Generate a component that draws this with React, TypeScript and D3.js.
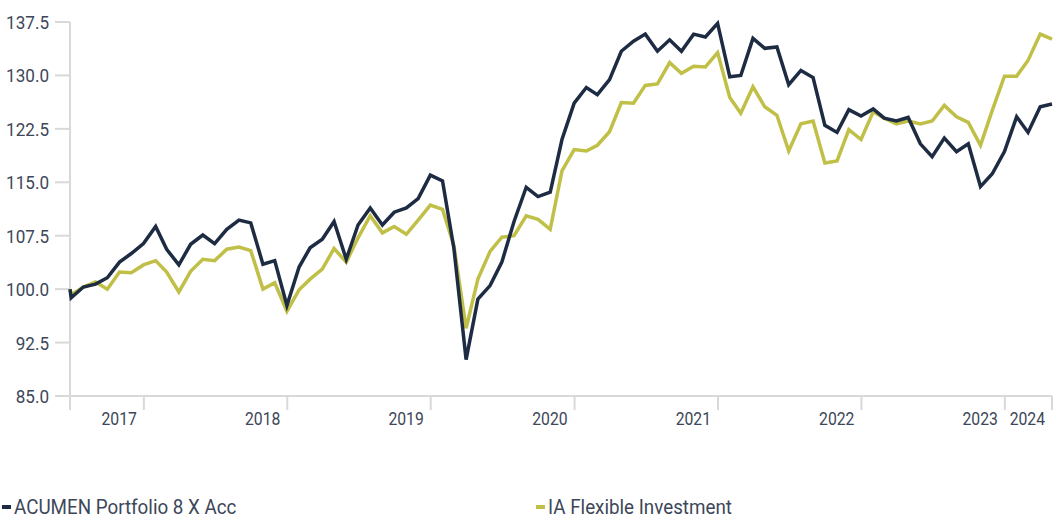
import React from "react";
import * as d3 from "d3";

const startDate = "2017-06-27";
const monthEnds = d3.timeMonth
  .range(new Date(2017, 5, 1), new Date(2024, 4, 1))
  .map((d) => d3.timeDay.offset(d3.timeMonth.offset(d, 1), -1));
const dates: Date[] = [d3.timeParse("%Y-%m-%d")(startDate)!, ...monthEnds];

const acumen = [
  100.0, 98.8, 100.3, 100.7, 101.6, 103.8, 105.0, 106.4,
  108.8, 105.6, 103.4, 106.3, 107.6, 106.4, 108.4, 109.7, 109.3, 103.5, 104.0, 97.7,
  103.1, 105.8, 107.0, 109.5, 104.2, 109.0, 111.4, 109.0, 110.8, 111.4, 112.7, 116.0,
  115.2, 105.7, 90.1, 98.6, 100.5, 103.8, 109.5, 114.3, 113.0, 113.6, 121.0, 126.1,
  128.3, 127.3, 129.4, 133.4, 134.8, 135.8, 133.4, 135.0, 133.4, 135.8, 135.4, 137.3,
  129.8, 130.0, 135.2, 133.8, 134.0, 128.7, 130.7, 129.7, 123.0, 122.0, 125.2, 124.3,
  125.3, 124.0, 123.6, 124.1, 120.4, 118.6, 121.2, 119.3, 120.4, 114.4, 116.2, 119.3,
  124.2, 122.0, 125.6, 126.0,
];

const iaFlexible = [
  100.0, 99.2, 100.3, 101.0, 100.0, 102.4, 102.3, 103.4,
  104.0, 102.4, 99.6, 102.5, 104.2, 104.0, 105.6, 105.9, 105.4, 100.0, 100.9, 96.9,
  99.9, 101.4, 102.8, 105.7, 103.8, 107.2, 110.3, 107.9, 108.8, 107.7, 109.7, 111.8,
  111.2, 106.1, 94.5, 101.4, 105.3, 107.3, 107.5, 110.3, 109.8, 108.4, 116.6, 119.6,
  119.4, 120.2, 122.1, 126.2, 126.1, 128.6, 128.8, 131.8, 130.3, 131.3, 131.2, 133.2,
  126.9, 124.7, 128.4, 125.6, 124.4, 119.4, 123.2, 123.6, 117.7, 118.0, 122.4, 121.0,
  124.9, 124.0, 123.2, 123.6, 123.2, 123.6, 125.8, 124.2, 123.4, 120.2, 125.1, 129.9,
  129.9, 132.1, 135.8, 135.1,
];

const seriesNames = ["ACUMEN Portfolio 8 X Acc", "IA Flexible Investment"];
const seriesColors = ["#1d2c42", "#c0bf47"];
const yTicks = [85, 92.5, 100, 107.5, 115, 122.5, 130, 137.5];
const yearTickDates = ["2018-01-01", "2019-01-01", "2020-01-01", "2021-01-01", "2022-01-01", "2023-01-01", "2024-01-01"];
const yearLabels = ["2017", "2018", "2019", "2020", "2021", "2022", "2023", "2024"];

const W = 1062;
const H = 519;
const left = 70;
const right = 1052;
const top = 22;
const bottom = 396;
const FONT = "Roboto, 'Liberation Sans', sans-serif";
const textColor = "#3d4759";
const axisColor = "#d9d9d9";

function CText({ x, y, size, sx, anchor, children }: { x: number; y: number; size: number; sx: number; anchor?: string; children: React.ReactNode }) {
  return (
    <text
      transform={`translate(${x},${y}) scale(${sx},1)`}
      textAnchor={anchor || "start"}
      fontSize={size}
      fill={textColor}
    >
      {children}
    </text>
  );
}

export default function App() {
  const x = d3.scaleTime().domain([dates[0], dates[dates.length - 1]]).range([left, right]);
  const y = d3.scaleLinear().domain([85, 137.5]).range([bottom, top]);
  const line = d3
    .line<number>()
    .x((_, i) => x(dates[i]))
    .y((v) => y(v))
    .curve(d3.curveLinear);

  const parse = d3.timeParse("%Y-%m-%d");
  const tickXs = [...yearTickDates.map((s) => x(parse(s)!)), x(dates[dates.length - 1])];
  const fmt = d3.format(".1f");

  return (
    <svg
      width={W}
      height={H}
      style={{ position: "fixed", left: 0, top: 0, background: "#fff" }}
      fontFamily={FONT}
    >
      {/* y axis */}
      <line x1={left} x2={left} y1={top} y2={bottom + 14} stroke={axisColor} strokeWidth={2} />
      {yTicks.map((t) => (
        <g key={t}>
          <line x1={left - 15} x2={left} y1={y(t)} y2={y(t)} stroke={axisColor} strokeWidth={2} />
          <CText x={left - 21} y={y(t) + 7} size={19} sx={0.9} anchor="end">
            {fmt(t)}
          </CText>
        </g>
      ))}
      {/* x axis */}
      <line x1={left} x2={right} y1={bottom} y2={bottom} stroke={axisColor} strokeWidth={2} />
      {tickXs.map((tx, i) => (
        <g key={i}>
          <line x1={tx} x2={tx} y1={bottom} y2={bottom + 14} stroke={axisColor} strokeWidth={2} />
          <CText x={tx - 7} y={425} size={17.5} sx={0.9} anchor="end">
            {yearLabels[i]}
          </CText>
        </g>
      ))}
      {/* lines */}
      <path d={line(iaFlexible) || ""} fill="none" stroke={seriesColors[1]} strokeWidth={3.5} strokeLinejoin="miter" />
      <path d={line(acumen) || ""} fill="none" stroke={seriesColors[0]} strokeWidth={3.5} strokeLinejoin="miter" />
      {/* legend */}
      {seriesNames.map((name, i) => {
        const lx = i === 0 ? 2 : 536;
        return (
          <g key={name}>
            <rect x={lx} y={505} width={9} height={4} fill={seriesColors[i]} />
            <CText x={lx + 12} y={514} size={20} sx={0.94}>
              {name}
            </CText>
          </g>
        );
      })}
    </svg>
  );
}
